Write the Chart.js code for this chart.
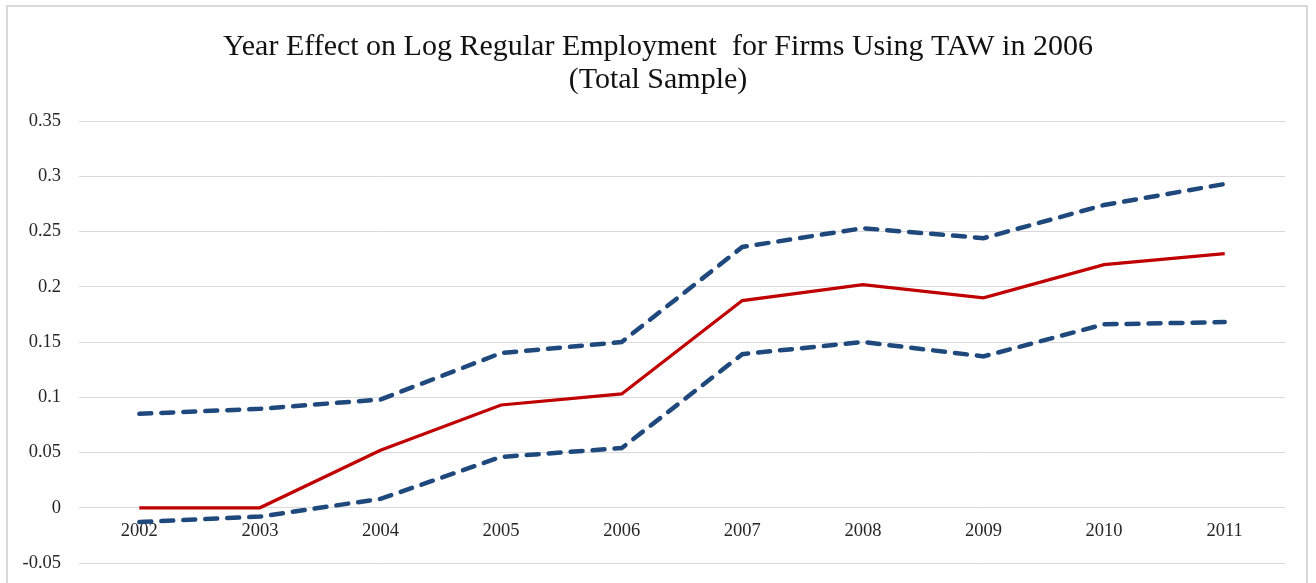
<!DOCTYPE html>
<html>
<head>
<meta charset="utf-8">
<script src="https://cdn.jsdelivr.net/npm/chart.js@4.4.0/dist/chart.umd.min.js"></script>
<style>
  html, body { margin: 0; padding: 0; background: #fff; }
  #wrap { position: relative; width: 1316px; height: 583px; overflow: hidden; }
  #frame { position: absolute; left: 6px; top: 5px; width: 1298px; height: 640px; border: 2px solid #d9d9d9; pointer-events: none; }
  canvas { position: absolute; left: 0; top: 0; }
</style>
</head>
<body>
<div id="wrap">
  <canvas id="chart" width="1316" height="583"></canvas>
  <div id="frame"></div>
</div>
<script>
// Year effect estimates with upper / lower confidence bounds
const years = ['2002', '2003', '2004', '2005', '2006', '2007', '2008', '2009', '2010', '2011'];
const estimate = [0, 0, 0.052, 0.093, 0.103, 0.1875, 0.202, 0.19, 0.22, 0.23];
const upperBound = [0.085, 0.0895, 0.098, 0.140, 0.150, 0.236, 0.253, 0.244, 0.274, 0.293];
const lowerBound = [-0.013, -0.008, 0.008, 0.046, 0.054, 0.139, 0.150, 0.137, 0.166, 0.168];
const yTicks = ['-0.05', '0', '0.05', '0.1', '0.15', '0.2', '0.25', '0.3', '0.35'];

const serif = "'Liberation Serif', 'Times New Roman', serif";
const blue = '#1f497d';

new Chart(document.getElementById('chart').getContext('2d'), {
    type: 'line',
    data: {
        labels: years,
        datasets: [
            { label: 'Upper', data: upperBound, borderColor: blue, borderWidth: 4.5, borderDash: [12, 10], borderCapStyle: 'round', pointRadius: 0, tension: 0 },
            { label: 'Lower', data: lowerBound, borderColor: blue, borderWidth: 4.5, borderDash: [12, 10], borderCapStyle: 'round', pointRadius: 0, tension: 0 },
            { label: 'Estimate', data: estimate, borderColor: '#c00000', borderWidth: 3.25, pointRadius: 0, tension: 0 }
        ]
    },
    options: {
        responsive: false,
        animation: false,
        layout: { padding: { left: 0, right: 0, top: 0, bottom: 20 } },
        plugins: {
            legend: { display: false },
            tooltip: { enabled: false },
            title: {
                display: true,
                text: ['Year Effect on Log Regular Employment  for Firms Using TAW in 2006', '(Total Sample)'],
                color: '#111',
                font: { family: serif, size: 30, weight: 'normal', lineHeight: 1.1 },
                padding: { top: 31, bottom: 24 }
            }
        },
        scales: {
            x: {
                // category labels sit just under the zero line
                position: { y: 0 },
                offset: true,
                grid: { display: false, drawTicks: false },
                border: { display: false },
                ticks: { color: '#262626', font: { family: serif, size: 18.5 }, padding: 12, maxRotation: 0 }
            },
            y: {
                min: -0.05,
                max: 0.35,
                grid: { color: '#d9d9d9', lineWidth: 1, drawTicks: false },
                border: { display: false },
                ticks: {
                    stepSize: 0.05,
                    color: '#262626',
                    font: { family: serif, size: 18.5 },
                    padding: 18,
                    callback: (v, i) => yTicks[i]
                },
                afterFit: s => { s.width = 79; s.paddingTop = 0; s.paddingBottom = 0; }
            },
            // empty right-hand axis, only keeps a margin right of the plot
            yRight: {
                position: 'right',
                min: -0.05,
                max: 0.35,
                grid: { display: false },
                border: { display: false },
                ticks: { display: false },
                afterFit: s => { s.width = 31; s.paddingTop = 0; s.paddingBottom = 0; }
            }
        }
    }
});
</script>
</body>
</html>
